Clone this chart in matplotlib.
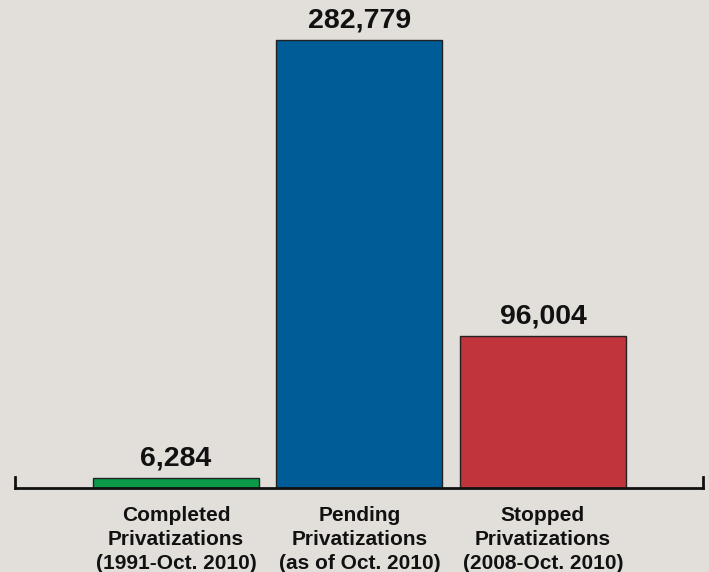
import matplotlib
matplotlib.use("Agg")
import matplotlib.pyplot as plt
import numpy as np

categories = ["Completed\nPrivatizations\n(1991-Oct. 2010)",
              "Pending\nPrivatizations\n(as of Oct. 2010)",
              "Stopped\nPrivatizations\n(2008-Oct. 2010)"]
values = [6284, 282779, 96004]
colors = ["#0a9a48", "#005c97", "#c1343b"]
bg = "#e2dfdb"

plt.rcParams['font.family'] = ['Liberation Sans', 'DejaVu Sans']

W, H = 709, 572
fig = plt.figure(figsize=(W / 100, H / 100), dpi=100, facecolor=bg)
ax = fig.add_axes([15 / W, 84 / H, (703 - 15) / W, 488 / H])
ax.set_facecolor(bg)

x = np.arange(len(values))
bars = ax.bar(x, values, width=0.905, color=colors, edgecolor="#222222", linewidth=1.0)
ax.bar_label(bars, labels=[f"{v:,}" for v in values], padding=4.5,
             fontsize=20.5, fontweight="bold", color="#111111")

ax.set_xlim(-0.877, 2.872)
top = max(values) * 488 / 448
ax.set_ylim(0, top)

ax.spines["top"].set_visible(False)
ax.spines["bottom"].set_linewidth(2)
ax.spines["bottom"].set_color("#111111")
tick_h = top * 11 / 488
for s in ["left", "right"]:
    ax.spines[s].set_bounds(0, tick_h)
    ax.spines[s].set_linewidth(2)
    ax.spines[s].set_color("#111111")
ax.set_yticks([])
ax.set_xticks(x)
ax.set_xticklabels(categories, fontsize=15, fontweight="bold", color="#111111",
                   linespacing=1.32)
ax.tick_params(axis="x", length=0, pad=13)

fig.savefig("out.png", dpi=100, facecolor=bg)
